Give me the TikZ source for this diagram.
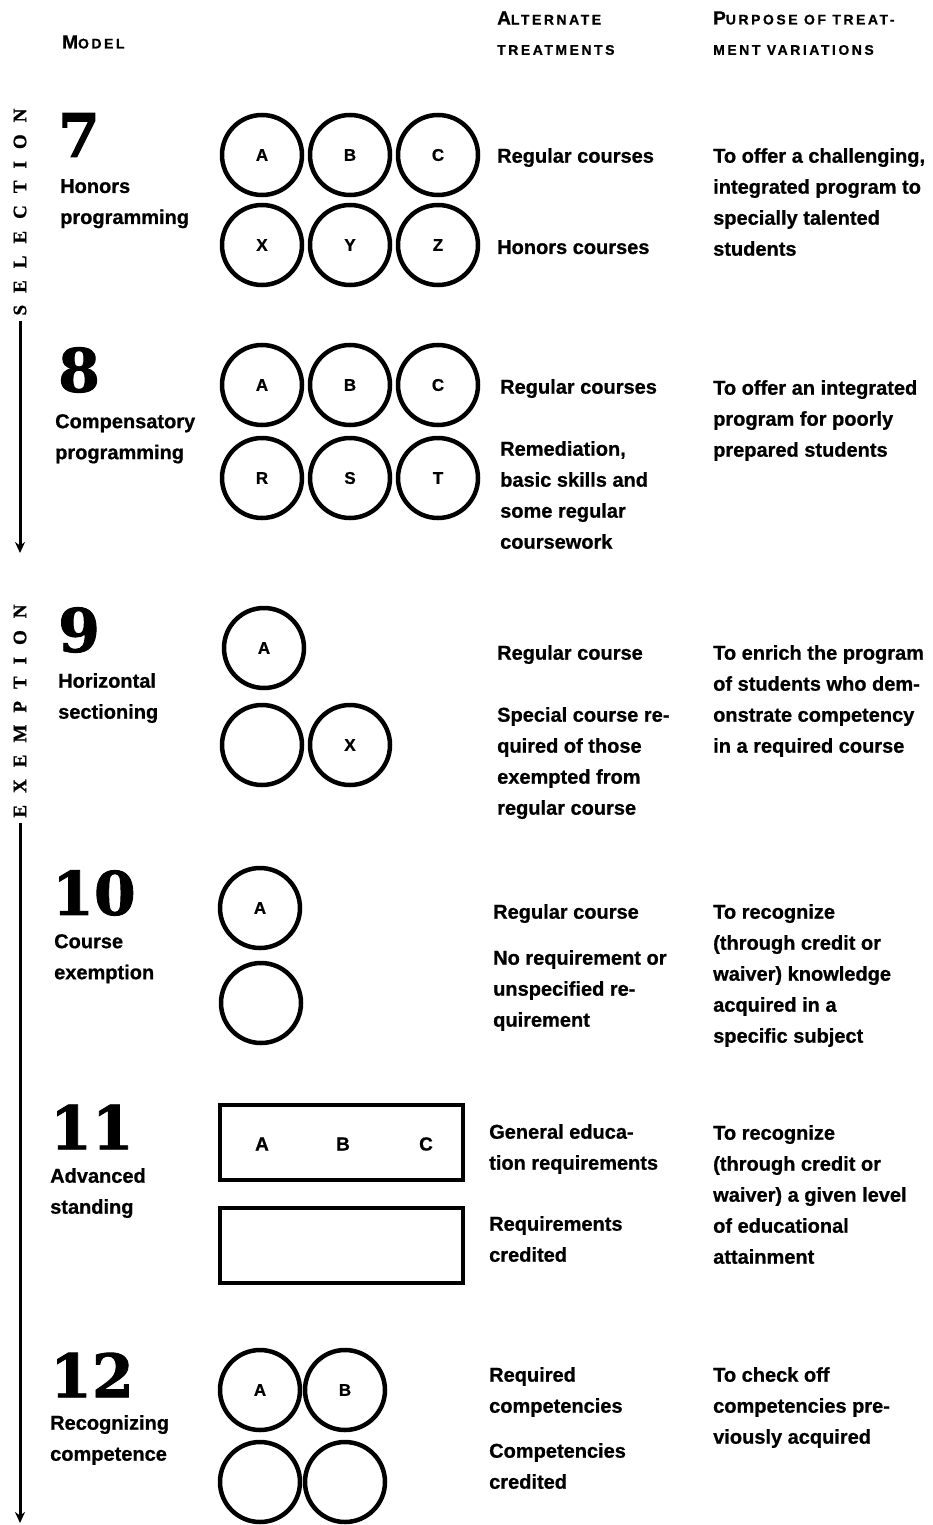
\documentclass[tikz,border=0pt]{standalone}
\usepackage{fontspec}
\setmainfont{Liberation Sans}
\newfontfamily\heavy{Liberation Sans Bold}[FakeBold=0.8]
\newfontfamily\numfont{DejaVu Serif Bold}[FakeBold=1.5]
\newfontfamily\vfont{Liberation Serif Bold}[FakeBold=1]
\usetikzlibrary{arrows.meta}
\newcommand\hsc[2]{{\fontsize{19}{19}\selectfont #1}{\fontsize{14}{14}\selectfont\addfontfeatures{LetterSpace=18}#2}}
\newcommand\hsm[1]{{\fontsize{14}{14}\selectfont\addfontfeatures{LetterSpace=18}#1}}
\newcommand\vsp{\hspace{12pt}}
\begin{document}
\begin{tikzpicture}[x=1pt,y=-1pt,
  txt/.style={anchor=north west, inner sep=0pt, align=left, font=\heavy\fontsize{20}{31}\selectfont},
  num/.style={anchor=west, inner sep=0pt, font=\numfont\fontsize{60}{60}\selectfont},
  circ/.style={circle, draw, line width=4.5pt, minimum size=80pt, inner sep=0pt, font=\heavy\fontsize{17}{17}\selectfont},
  boxx/.style={draw, line width=4.5pt, minimum width=243pt, minimum height=75pt, inner sep=0pt},
  boxlbl/.style={inner sep=0pt, font=\heavy\fontsize{19}{19}\selectfont},
  head/.style={anchor=west, inner sep=0pt, font=\heavy},
  vlabel/.style={rotate=90, inner sep=0pt, font=\vfont\fontsize{19}{19}\selectfont},
  arr/.style={line width=3pt, -{Stealth[length=11pt,width=10pt]}}
]
\useasboundingbox (0,0) rectangle (933,1525);

% headers
\node[head] (hmodel) at (62,42) {\hsc{M}{ODEL}};
\node[head] (halt1) at (497,18) {\hsc{A}{LTERNATE}};
\node[head] (halt2) at (497,50) {\hsm{TREATMENTS}};
\node[head] (hpur1) at (713,18) {\hsc{P}{URPOSE OF TREAT-}};
\node[head] (hpur2) at (713,50) {\hsm{MENT VARIATIONS}};

% vertical labels and arrows
\node[vlabel] (sel) at (20,212) {S\vsp E\vsp L\vsp E\vsp C\vsp T\vsp I\vsp O\vsp N};
\coordinate (selend) at (20,553);
\draw[arr] (sel.west) ++(0,5) -- (selend);
\node[vlabel] (exe) at (20,711) {E\vsp X\vsp E\vsp M\vsp P\vsp T\vsp I\vsp O\vsp N};
\coordinate (exeend) at (20,1523);
\draw[arr] (exe.west) ++(0,5) -- (exeend);

% ---- Model 7
\node[num] (n7) at (58,135) {7};
\node[txt] (m7) at (60,179) {Honors\\programming};
\node[circ] (c7a) at (262,155) {A};
\node[circ] (c7b) at (350,155) {B};
\node[circ] (c7c) at (438,155) {C};
\node[circ] (c7x) at (262,245) {X};
\node[circ] (c7y) at (350,245) {Y};
\node[circ] (c7z) at (438,245) {Z};
\node[txt] (t7a) at (497,148) {Regular courses};
\node[txt] (t7b) at (497,240) {Honors courses};
\node[txt] (p7) at (713,148) {To offer a challenging,\\integrated program to\\specially talented\\students};

% ---- Model 8
\node[num] (n8) at (58,370) {8};
\node[txt] (m8) at (55,414) {Compensatory\\programming};
\node[circ] (c8a) at (262,385) {A};
\node[circ] (c8b) at (350,385) {B};
\node[circ] (c8c) at (438,385) {C};
\node[circ] (c8r) at (262,478) {R};
\node[circ] (c8s) at (350,478) {S};
\node[circ] (c8t) at (438,478) {T};
\node[txt] (t8a) at (500,379) {Regular courses};
\node[txt] (t8b) at (500,441) {Remediation,\\basic skills and\\some regular\\coursework};
\node[txt] (p8) at (713,380) {To offer an integrated\\program for poorly\\prepared students};

% ---- Model 9
\node[num] (n9) at (58,630) {9};
\node[txt] (m9) at (58,673) {Horizontal\\sectioning};
\node[circ] (c9a) at (264,648) {A};
\node[circ] (c9e) at (262,745) {};
\node[circ] (c9x) at (350,745) {X};
\node[txt] (t9a) at (497,645) {Regular course};
\node[txt] (t9b) at (497,707) {Special course re-\\quired of those\\exempted from\\regular course};
\node[txt] (p9) at (713,645) {To enrich the program\\of students who dem-\\onstrate competency\\in a required course};

% ---- Model 10
\node[num] (n10) at (52,893) {10};
\node[txt] (m10) at (54,934) {Course\\exemption};
\node[circ] (c10a) at (260,908) {A};
\node[circ] (c10e) at (261,1003) {};
\node[txt] (t10a) at (493,904) {Regular course};
\node[txt] (t10b) at (493,950) {No requirement or\\unspecified re-\\quirement};
\node[txt] (p10) at (713,904) {To recognize\\(through credit or\\waiver) knowledge\\acquired in a\\specific subject};

% ---- Model 11
\node[num] (n11) at (50,1127) {11};
\node[txt] (m11) at (50,1168) {Advanced\\standing};
\node[boxx] (r11a) at (341.5,1142.5) {};
\node[boxlbl] (r11A) at (262,1144) {A};
\node[boxlbl] (r11B) at (343,1144) {B};
\node[boxlbl] (r11C) at (426,1144) {C};
\node[boxx] (r11b) at (341.5,1245.5) {};
\node[txt] (t11a) at (489,1124) {General educa-\\tion requirements};
\node[txt] (t11b) at (489,1216) {Requirements\\credited};
\node[txt] (p11) at (713,1125) {To recognize\\(through credit or\\waiver) a given level\\of educational\\attainment};

% ---- Model 12
\node[num] (n12) at (50,1375) {12};
\node[txt] (m12) at (50,1415) {Recognizing\\competence};
\node[circ] (c12a) at (260,1390) {A};
\node[circ] (c12b) at (345,1390) {B};
\node[circ] (c12c) at (260,1482) {};
\node[circ] (c12d) at (345,1482) {};
\node[txt] (t12a) at (489,1367) {Required\\competencies};
\node[txt] (t12b) at (489,1443) {Competencies\\credited};
\node[txt] (p12) at (713,1367) {To check off\\competencies pre-\\viously acquired};
\end{tikzpicture}
\end{document}
